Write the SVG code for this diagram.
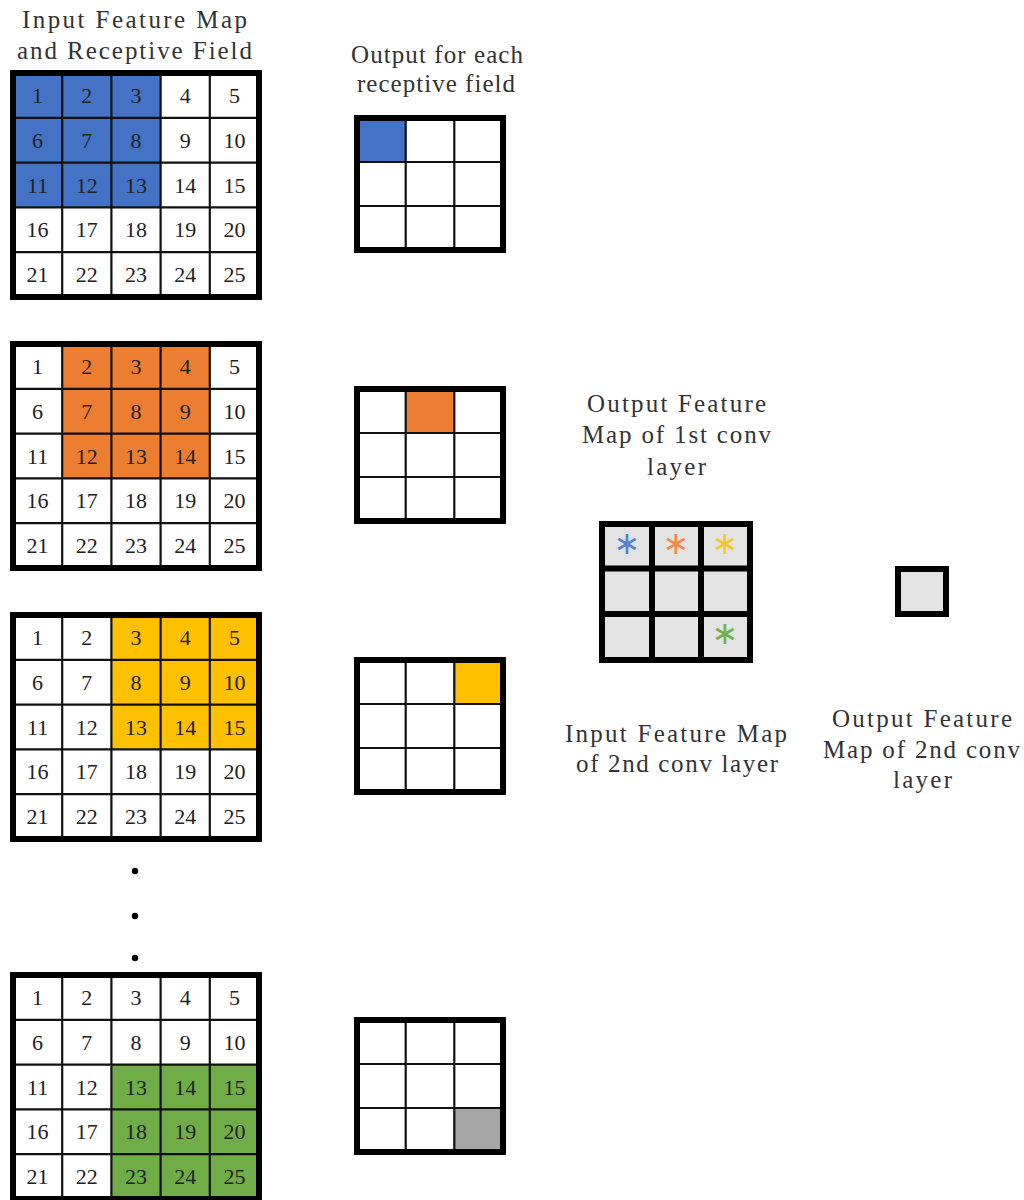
<svg xmlns="http://www.w3.org/2000/svg" width="1024" height="1200" viewBox="0 0 1024 1200">
<style>
.frame{fill:none;stroke:#000;stroke-width:6}
.thin{stroke:#111;stroke-width:2.2}
.thick{stroke:#000;stroke-width:6}
.num{font-family:"Liberation Serif","DejaVu Serif",serif;font-size:22px;fill:#222;text-anchor:middle}
.lbl{font-family:"Liberation Serif","DejaVu Serif",serif;font-size:25px;fill:#333;text-anchor:middle}
.ast{font-family:"DejaVu Sans",sans-serif;font-size:32px;text-anchor:middle}
.blue{fill:#4472C4}.orange{fill:#ED7D31}.yellow{fill:#FFC000}.green{fill:#70AD47}.gray{fill:#A6A6A6}.lg{fill:#E3E3E3}
</style>
<rect width="1024" height="1200" fill="#fff"/>

<!-- Labels -->
<g id="labels">
<text class="lbl" x="134.5" y="28" textLength="225">Input Feature Map</text>
<text class="lbl" x="134.5" y="59" textLength="235">and Receptive Field</text>
<text class="lbl" x="437" y="63" textLength="172">Output for each</text>
<text class="lbl" x="436" y="92" textLength="158">receptive field</text>
<text class="lbl" x="676.5" y="412" textLength="179">Output Feature</text>
<text class="lbl" x="676.5" y="443" textLength="189">Map of 1st conv</text>
<text class="lbl" x="676.5" y="475" textLength="59">layer</text>
<text class="lbl" x="676" y="742" textLength="222">Input Feature Map</text>
<text class="lbl" x="677" y="772" textLength="202">of 2nd conv layer</text>
<text class="lbl" x="922" y="727" textLength="180">Output Feature</text>
<text class="lbl" x="921.5" y="758" textLength="197">Map of 2nd conv</text>
<text class="lbl" x="922.5" y="788" textLength="59">layer</text>
</g>

<!-- Input grid 1 -->
<g id="input-grid-1">
<rect class="blue" x="13" y="73" width="147.6" height="134.4"/>
<path class="thin" d="M62.2 73V297M111.4 73V297M160.6 73V297M209.8 73V297M13 117.8H259M13 162.6H259M13 207.4H259M13 252.2H259"/>
<rect class="frame" x="13" y="73" width="246" height="224"/>
<text class="num" x="37.6" y="102.9">1</text><text class="num" x="86.8" y="102.9">2</text><text class="num" x="136" y="102.9">3</text><text class="num" x="185.2" y="102.9">4</text><text class="num" x="234.4" y="102.9">5</text>
<text class="num" x="37.6" y="147.7">6</text><text class="num" x="86.8" y="147.7">7</text><text class="num" x="136" y="147.7">8</text><text class="num" x="185.2" y="147.7">9</text><text class="num" x="234.4" y="147.7">10</text>
<text class="num" x="37.6" y="192.5">11</text><text class="num" x="86.8" y="192.5">12</text><text class="num" x="136" y="192.5">13</text><text class="num" x="185.2" y="192.5">14</text><text class="num" x="234.4" y="192.5">15</text>
<text class="num" x="37.6" y="237.3">16</text><text class="num" x="86.8" y="237.3">17</text><text class="num" x="136" y="237.3">18</text><text class="num" x="185.2" y="237.3">19</text><text class="num" x="234.4" y="237.3">20</text>
<text class="num" x="37.6" y="282.1">21</text><text class="num" x="86.8" y="282.1">22</text><text class="num" x="136" y="282.1">23</text><text class="num" x="185.2" y="282.1">24</text><text class="num" x="234.4" y="282.1">25</text>
</g>

<!-- Input grid 2 -->
<g id="input-grid-2" transform="translate(0,271)">
<rect class="orange" x="62.2" y="73" width="147.6" height="134.4"/>
<path class="thin" d="M62.2 73V297M111.4 73V297M160.6 73V297M209.8 73V297M13 117.8H259M13 162.6H259M13 207.4H259M13 252.2H259"/>
<rect class="frame" x="13" y="73" width="246" height="224"/>
<text class="num" x="37.6" y="102.9">1</text><text class="num" x="86.8" y="102.9">2</text><text class="num" x="136" y="102.9">3</text><text class="num" x="185.2" y="102.9">4</text><text class="num" x="234.4" y="102.9">5</text>
<text class="num" x="37.6" y="147.7">6</text><text class="num" x="86.8" y="147.7">7</text><text class="num" x="136" y="147.7">8</text><text class="num" x="185.2" y="147.7">9</text><text class="num" x="234.4" y="147.7">10</text>
<text class="num" x="37.6" y="192.5">11</text><text class="num" x="86.8" y="192.5">12</text><text class="num" x="136" y="192.5">13</text><text class="num" x="185.2" y="192.5">14</text><text class="num" x="234.4" y="192.5">15</text>
<text class="num" x="37.6" y="237.3">16</text><text class="num" x="86.8" y="237.3">17</text><text class="num" x="136" y="237.3">18</text><text class="num" x="185.2" y="237.3">19</text><text class="num" x="234.4" y="237.3">20</text>
<text class="num" x="37.6" y="282.1">21</text><text class="num" x="86.8" y="282.1">22</text><text class="num" x="136" y="282.1">23</text><text class="num" x="185.2" y="282.1">24</text><text class="num" x="234.4" y="282.1">25</text>
</g>

<!-- Input grid 3 -->
<g id="input-grid-3" transform="translate(0,542)">
<rect class="yellow" x="111.4" y="73" width="147.6" height="134.4"/>
<path class="thin" d="M62.2 73V297M111.4 73V297M160.6 73V297M209.8 73V297M13 117.8H259M13 162.6H259M13 207.4H259M13 252.2H259"/>
<rect class="frame" x="13" y="73" width="246" height="224"/>
<text class="num" x="37.6" y="102.9">1</text><text class="num" x="86.8" y="102.9">2</text><text class="num" x="136" y="102.9">3</text><text class="num" x="185.2" y="102.9">4</text><text class="num" x="234.4" y="102.9">5</text>
<text class="num" x="37.6" y="147.7">6</text><text class="num" x="86.8" y="147.7">7</text><text class="num" x="136" y="147.7">8</text><text class="num" x="185.2" y="147.7">9</text><text class="num" x="234.4" y="147.7">10</text>
<text class="num" x="37.6" y="192.5">11</text><text class="num" x="86.8" y="192.5">12</text><text class="num" x="136" y="192.5">13</text><text class="num" x="185.2" y="192.5">14</text><text class="num" x="234.4" y="192.5">15</text>
<text class="num" x="37.6" y="237.3">16</text><text class="num" x="86.8" y="237.3">17</text><text class="num" x="136" y="237.3">18</text><text class="num" x="185.2" y="237.3">19</text><text class="num" x="234.4" y="237.3">20</text>
<text class="num" x="37.6" y="282.1">21</text><text class="num" x="86.8" y="282.1">22</text><text class="num" x="136" y="282.1">23</text><text class="num" x="185.2" y="282.1">24</text><text class="num" x="234.4" y="282.1">25</text>
</g>

<!-- Ellipsis dots -->
<g id="ellipsis">
<circle cx="135" cy="871" r="3.2" fill="#000"/>
<circle cx="135" cy="916" r="3.2" fill="#000"/>
<circle cx="135" cy="958" r="3.2" fill="#000"/>
</g>

<!-- Input grid 4 -->
<g id="input-grid-4" transform="translate(0,902)">
<rect class="green" x="111.4" y="162.6" width="147.6" height="134.4"/>
<path class="thin" d="M62.2 73V297M111.4 73V297M160.6 73V297M209.8 73V297M13 117.8H259M13 162.6H259M13 207.4H259M13 252.2H259"/>
<rect class="frame" x="13" y="73" width="246" height="224"/>
<text class="num" x="37.6" y="102.9">1</text><text class="num" x="86.8" y="102.9">2</text><text class="num" x="136" y="102.9">3</text><text class="num" x="185.2" y="102.9">4</text><text class="num" x="234.4" y="102.9">5</text>
<text class="num" x="37.6" y="147.7">6</text><text class="num" x="86.8" y="147.7">7</text><text class="num" x="136" y="147.7">8</text><text class="num" x="185.2" y="147.7">9</text><text class="num" x="234.4" y="147.7">10</text>
<text class="num" x="37.6" y="192.5">11</text><text class="num" x="86.8" y="192.5">12</text><text class="num" x="136" y="192.5">13</text><text class="num" x="185.2" y="192.5">14</text><text class="num" x="234.4" y="192.5">15</text>
<text class="num" x="37.6" y="237.3">16</text><text class="num" x="86.8" y="237.3">17</text><text class="num" x="136" y="237.3">18</text><text class="num" x="185.2" y="237.3">19</text><text class="num" x="234.4" y="237.3">20</text>
<text class="num" x="37.6" y="282.1">21</text><text class="num" x="86.8" y="282.1">22</text><text class="num" x="136" y="282.1">23</text><text class="num" x="185.2" y="282.1">24</text><text class="num" x="234.4" y="282.1">25</text>
</g>

<!-- Output grids -->
<g id="output-grid-1">
<rect class="blue" x="357" y="118" width="48.7" height="44"/>
<path class="thin" d="M405.7 118V250M454.3 118V250M357 162H503M357 206H503"/>
<rect class="frame" x="357" y="118" width="146" height="132"/>
</g>
<g id="output-grid-2" transform="translate(0,271)">
<rect class="orange" x="405.7" y="118" width="48.6" height="44"/>
<path class="thin" d="M405.7 118V250M454.3 118V250M357 162H503M357 206H503"/>
<rect class="frame" x="357" y="118" width="146" height="132"/>
</g>
<g id="output-grid-3" transform="translate(0,542)">
<rect class="yellow" x="454.3" y="118" width="48.7" height="44"/>
<path class="thin" d="M405.7 118V250M454.3 118V250M357 162H503M357 206H503"/>
<rect class="frame" x="357" y="118" width="146" height="132"/>
</g>
<g id="output-grid-4" transform="translate(0,902)">
<rect class="gray" x="454.3" y="206" width="48.7" height="44"/>
<path class="thin" d="M405.7 118V250M454.3 118V250M357 162H503M357 206H503"/>
<rect class="frame" x="357" y="118" width="146" height="132"/>
</g>

<!-- Output feature map of 1st conv layer -->
<g id="feature-map-1">
<rect class="lg" x="602" y="524" width="148" height="136"/>
<path class="thick" d="M652 524V660M701 524V660M602 568.5H750M602 614H750"/>
<rect class="frame" x="602" y="524" width="148" height="136"/>
<text class="ast" x="627" y="553.5" fill="#5A80D2">∗</text>
<text class="ast" x="676" y="553.5" fill="#EF8A4E">∗</text>
<text class="ast" x="725" y="553.5" fill="#F5C82A">∗</text>
<text class="ast" x="725" y="643.5" fill="#72B04E">∗</text>
</g>

<!-- Output feature map of 2nd conv layer -->
<g id="feature-map-2">
<rect class="lg" x="898" y="569" width="48" height="45"/>
<rect class="frame" x="898" y="569" width="48" height="45"/>
</g>

<g id="connectors"></g>
</svg>
